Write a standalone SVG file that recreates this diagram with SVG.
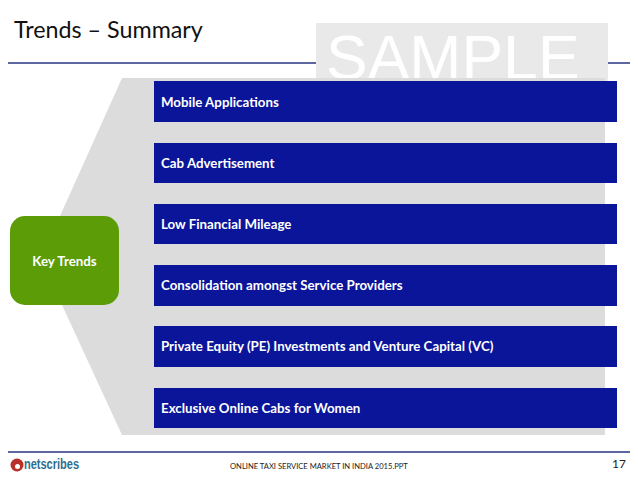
<svg xmlns="http://www.w3.org/2000/svg" width="638" height="479" viewBox="0 0 638 479">
<style>
.bar{fill:#0a159a}
.bl{font:bold 13.3px Lato,"Open Sans",sans-serif;fill:#fff}
.rule{stroke:#27347f;stroke-width:1.3}
</style>
<rect width="638" height="479" fill="#fff"/>
<g id="header">
<line class="rule" x1="8" y1="63" x2="630" y2="63"/>
<rect x="316" y="23" width="292" height="58" fill="#e9e9e9"/>
<text x="326" y="79" font-family="Liberation Sans,Arial,sans-serif" font-size="62.500" fill="#fff">SAMPLE</text>
<text x="14" y="38" font-family="Lato,'Open Sans',sans-serif" font-size="23.300" fill="#111">Trends – Summary</text>
</g>
<polygon id="backdrop" points="122,78 605,78 605,435 122,435 62,305 60,216" fill="#dcdcdd"/>
<g id="connectors"></g>
<g id="key-trends">
<rect x="10" y="216" width="109" height="89" rx="15" fill="#5b9c07"/>
<text x="64.500" y="266" text-anchor="middle" class="bl">Key Trends</text>
</g>
<g id="n1"><rect class="bar" x="154" y="81" width="463" height="41"/><text class="bl" x="161" y="107">Mobile Applications</text></g>
<g id="n2"><rect class="bar" x="154" y="143" width="463" height="40"/><text class="bl" x="161" y="168">Cab Advertisement</text></g>
<g id="n3"><rect class="bar" x="154" y="204" width="463" height="40"/><text class="bl" x="161" y="229">Low Financial Mileage</text></g>
<g id="n4"><rect class="bar" x="154" y="265" width="463" height="41"/><text class="bl" x="161" y="290">Consolidation amongst Service Providers</text></g>
<g id="n5"><rect class="bar" x="154" y="326" width="463" height="41"/><text class="bl" x="161" y="351">Private Equity (PE) Investments and Venture Capital (VC)</text></g>
<g id="n6"><rect class="bar" x="154" y="388" width="463" height="40"/><text class="bl" x="161" y="413">Exclusive Online Cabs for Women</text></g>
<g id="footer">
<line class="rule" x1="8" y1="452" x2="630" y2="452"/>
<circle cx="17" cy="465" r="6.500" fill="#b8302c"/>
<circle cx="17.500" cy="466.500" r="2.500" fill="#fff"/>
<text x="24" y="469" font-family="Liberation Sans,Arial,sans-serif" font-weight="bold" font-size="14" fill="#2d6f8e" textLength="55" lengthAdjust="spacingAndGlyphs">netscribes</text>
<text x="230" y="469" font-family="Lato,'Open Sans',sans-serif" font-size="7.600" fill="#222">ONLINE TAXI SERVICE MARKET IN INDIA 2015.PPT</text>
<text x="612" y="468" font-family="Lato,'Open Sans',sans-serif" font-size="12" fill="#222">17</text>
</g>
</svg>
